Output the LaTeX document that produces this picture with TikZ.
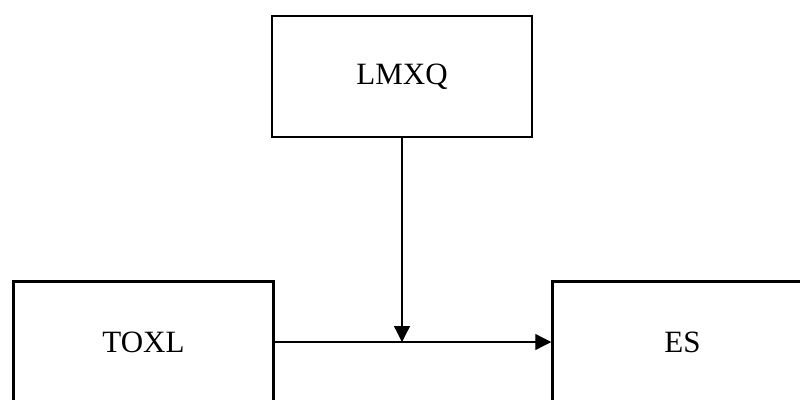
\documentclass[tikz,border=0pt]{standalone}
\usepackage{fontspec}
\setmainfont{Liberation Serif}
\usetikzlibrary{arrows.meta}
\tikzset{blockbox/.style={draw, line width=2.5pt, minimum width=260pt, minimum height=121pt, inner sep=0pt, font=\fontsize{31}{37}\selectfont},
    link/.style={line width=1.3pt, -{Triangle[length=16pt,width=16pt]}}}

\begin{document}
\begin{tikzpicture}[x=1pt, y=1pt]
    %the frame
    \useasboundingbox (0, 0) rectangle (800, -399);
    %the boxes
    \node[blockbox] (lmxq) at (402, -76.5) {LMXQ};
    \node[blockbox] (toxl) at (143.5, -342) {TOXL};
    \node[blockbox] (es) at (682.5, -342) {ES};
    %the arrows
    \coordinate (meet) at (lmxq.south |- toxl.east);
    \draw[link] (toxl.east) -- (es.west);
    \draw[link] (lmxq.south) -- (meet);
\end{tikzpicture}
\end{document}
